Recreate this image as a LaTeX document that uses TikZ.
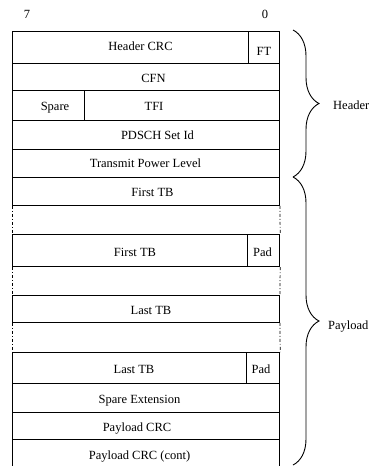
\documentclass[tikz,border=0pt]{standalone}
\usepackage{fontspec}
\setmainfont{Liberation Serif}
\usetikzlibrary{decorations.pathreplacing}
\begin{document}
\begin{tikzpicture}[x=1pt,y=-1pt,
  every node/.style={inner sep=0pt},
  txt/.style={font=\fontsize{12.5}{14}\selectfont, text height=8.3pt, text depth=0pt},
  cell/.style={draw, line width=0.9pt, anchor=north west},
  padcell/.style={cell, line width=1.2pt},
  gapline/.style={line width=0.7pt, dash pattern=on 3pt off 2pt on 1pt off 2pt},
  bracedec/.style={decorate, line width=0.9pt, decoration={brace, amplitude=26pt}}]
\useasboundingbox (0,0) rectangle (369,466);
% bit labels
\node[txt] (b7) at (27,14) {7};
\node[txt] (b0) at (265,14) {0};
% cells
\node[cell, minimum width=236pt, minimum height=32pt] (hcrc) at (12,31) {};
\node[cell, minimum width=31pt, minimum height=32pt] (ft) at (248,31) {};
\node[cell, minimum width=267pt, minimum height=27pt] (cfn) at (12,63) {};
\node[cell, minimum width=72pt, minimum height=30pt] (spare) at (12,90) {};
\node[cell, minimum width=195pt, minimum height=30pt] (tfi) at (84,90) {};
\node[cell, minimum width=267pt, minimum height=29pt] (pdsch) at (12,120) {};
\node[cell, minimum width=267pt, minimum height=28pt] (tpl) at (12,149) {};
\node[cell, minimum width=267pt, minimum height=28pt] (ftb1) at (12,177) {};
\node[cell, minimum width=235pt, minimum height=32pt] (ftb2) at (12,234) {};
\node[padcell, minimum width=32pt, minimum height=32pt] (pad1) at (247,234) {};
\node[cell, minimum width=267pt, minimum height=27pt] (ltb1) at (12,295) {};
\node[cell, minimum width=234pt, minimum height=31pt] (ltb2) at (12,352) {};
\node[padcell, minimum width=33pt, minimum height=31pt] (pad2) at (246,352) {};
\node[cell, minimum width=267pt, minimum height=29pt] (spx) at (12,383) {};
\node[cell, minimum width=267pt, minimum height=27pt] (pcrc) at (12,412) {};
\node[cell, minimum width=267pt, minimum height=27pt] (pcrc2) at (12,439) {};
% texts
\node[txt] (t-hcrc) at (140.5,46) {Header CRC};
\node[txt] (t-ft) at (264,51) {FT};
\node[txt] (t-cfn) at (153.5,78.5) {CFN};
\node[txt] (t-spare) at (55,106.5) {Spare};
\node[txt] (t-tfi) at (154,106.5) {TFI};
\node[txt] (t-pdsch) at (157.5,135) {PDSCH Set Id};
\node[txt] (t-tpl) at (145.5,163) {Transmit Power Level};
\node[txt] (t-ftb1) at (152.5,192) {First TB};
\node[txt] (t-ftb2) at (135,252.5) {First TB};
\node[txt] (t-pad1) at (262.5,252) {Pad};
\node[txt] (t-ltb1) at (151,310) {Last TB};
\node[txt] (t-ltb2) at (134,369.5) {Last TB};
\node[txt] (t-pad2) at (261,369) {Pad};
\node[txt] (t-spx) at (139.5,399.5) {Spare Extension};
\node[txt] (t-pcrc) at (137,427) {Payload CRC};
\node[txt] (t-pcrc2) at (139.5,455) {Payload CRC (cont)};
% dash-dot gaps
\draw[gapline] (ftb1.south west) -- (ftb2.north west);
\draw[gapline] (ftb1.south east) -- (pad1.north east);
\draw[gapline] (ftb2.south west) -- (ltb1.north west);
\draw[gapline] (pad1.south east) -- (ltb1.north east);
\draw[gapline] (ltb1.south west) -- (ltb2.north west);
\draw[gapline] (ltb1.south east) -- (pad2.north east);
% braces
\coordinate (h1) at (293,30);
\coordinate (h2) at (293,177);
\coordinate (p2) at (293,465);
\draw[bracedec] (h1) -- (h2);
\draw[bracedec] (h2) -- (p2);
\node[txt, anchor=west] (hdr) at (333,105) {Header};
\node[txt, anchor=west] (pl) at (328,325) {Payload};
\end{tikzpicture}
\end{document}
